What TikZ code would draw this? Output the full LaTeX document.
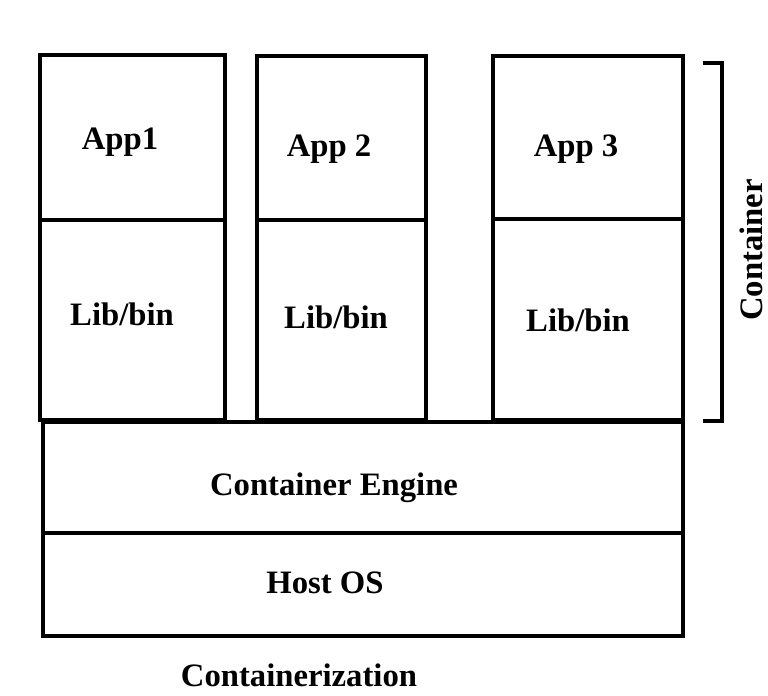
\documentclass[tikz,border=0pt]{standalone}
\usepackage{fontspec}
\setmainfont{Liberation Serif}
\tikzset{
  caja/.style={line width=2.6pt},
  etiqueta/.style={font=\fontsize{18.6}{22}\selectfont\bfseries, inner sep=0pt}
}
\begin{document}
\begin{tikzpicture}
    \useasboundingbox (0,0) rectangle (15.36,13.92);
    % Contenedores (App + Lib/bin)
    \draw[caja] (0.80,12.82) rectangle (4.50,5.52);
    \draw[caja] (0.80,9.52) -- (4.50,9.52);
    \draw[caja] (5.14,12.80) rectangle (8.52,5.52);
    \draw[caja] (5.14,9.52) -- (8.52,9.52);
    \draw[caja] (9.86,12.80) rectangle (13.66,5.52);
    \draw[caja] (9.86,9.54) -- (13.66,9.54);
    \node[etiqueta] (app1) at (2.40,11.08) {App1};
    \node[etiqueta] (app2) at (6.58,10.94) {App 2};
    \node[etiqueta] (app3) at (11.52,10.94) {App 3};
    \node[etiqueta] (lib1) at (2.44,7.64) {Lib/bin};
    \node[etiqueta] (lib2) at (6.72,7.58) {Lib/bin};
    \node[etiqueta] (lib3) at (11.56,7.52) {Lib/bin};
    % Motor y sistema
    \draw[caja] (0.86,5.48) rectangle (13.66,3.26);
    \draw[caja] (0.86,3.26) rectangle (13.66,1.20);
    \node[etiqueta] (motor) at (6.68,4.16) {Container Engine};
    \node[etiqueta] (host) at (6.50,2.26) {Host OS};
    % Llave del contenedor
    \draw[caja] (14.06,12.66) -- (14.44,12.66) -- (14.44,5.50) -- (14.06,5.50);
    \node[etiqueta, rotate=90] (cont) at (15.02,8.92) {Container};
    \node[etiqueta] (titulo) at (5.98,0.42) {Containerization};
\end{tikzpicture}
\end{document}
